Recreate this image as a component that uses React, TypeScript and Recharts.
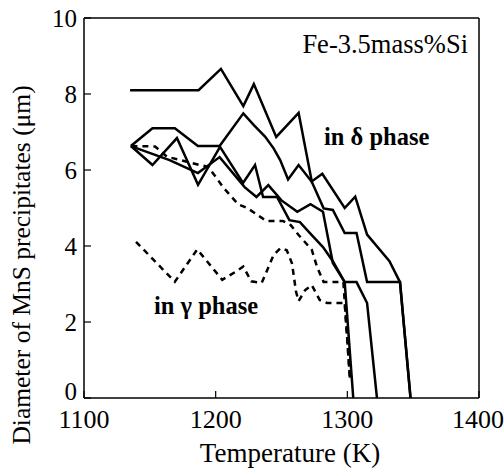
import React from "react";
import { LineChart, Line, XAxis, YAxis } from "recharts";

const tempTicks = [1100, 1200, 1300, 1400];
const sizeTicks = [0, 2, 4, 6, 8, 10];

// delta phase runs (solid)
const runA_T = [1135, 1187, 1204, 1221, 1229, 1246, 1263, 1273, 1281, 1298, 1306, 1315, 1332, 1340, 1348];
const runA_D = [8.1, 8.1, 8.66, 7.68, 8.26, 6.87, 7.5, 5.7, 5.9, 5.0, 5.3, 4.3, 3.6, 3.05, 0];

const runB_T = [1135.6, 1152, 1169, 1186.5, 1203, 1221, 1229, 1237.5, 1244, 1249, 1255, 1263, 1273, 1282, 1289, 1298, 1307, 1315, 1340, 1348];
const runB_D = [6.63, 7.1, 7.1, 6.63, 6.63, 7.49, 7.18, 6.88, 6.57, 6.26, 5.75, 6.13, 5.69, 4.99, 4.95, 4.34, 4.34, 3.05, 3.05, 0];

const runC_T = [1135.6, 1152, 1170.6, 1186.6, 1203.3, 1220.8, 1229.9, 1236, 1246.6, 1256, 1264, 1271.6, 1281.5, 1289, 1298, 1307, 1315, 1322.5];
const runC_D = [6.63, 6.13, 6.84, 5.61, 6.61, 5.66, 6.13, 5.29, 5.29, 4.68, 4.63, 4.34, 3.97, 3.6, 3.05, 3.05, 2.5, 0];

const runD_T = [1135.6, 1165, 1186.5, 1203, 1222, 1231, 1240, 1250, 1262, 1272, 1281.5, 1289, 1298, 1304.5];
const runD_D = [6.63, 6.26, 5.92, 6.34, 5.55, 5.29, 5.6, 5.2, 4.9, 5.1, 4.9, 3.55, 3.05, 0];

// dashed runs
const runE_T = [1136, 1154, 1163, 1188, 1194, 1200, 1206, 1217, 1224, 1230, 1235, 1238, 1251, 1257, 1263, 1273, 1277, 1282, 1297, 1302];
const runE_D = [6.63, 6.62, 6.35, 6.13, 6.09, 5.82, 5.53, 5.1, 5.0, 4.86, 4.74, 4.66, 4.66, 4.55, 4.29, 3.9, 3.45, 3.05, 3.05, 0.5];

// gamma phase
const gamma_T = [1139.5, 1169, 1186, 1205, 1215, 1221, 1227, 1235, 1244, 1249, 1254, 1258, 1261, 1263, 1268, 1273, 1279, 1284.6, 1298, 1302];
const gamma_D = [4.11, 3.06, 3.91, 3.11, 3.32, 3.46, 3.07, 3.03, 3.76, 3.94, 3.89, 3.54, 2.8, 2.55, 2.84, 2.97, 2.58, 2.5, 2.5, 0.5];

const toPoints = (t: number[], d: number[]) => t.map((x, i) => ({ t: x, d: d[i] }));

const series = [
  { id: "A", data: toPoints(runA_T, runA_D), dashed: false },
  { id: "B", data: toPoints(runB_T, runB_D), dashed: false },
  { id: "C", data: toPoints(runC_T, runC_D), dashed: false },
  { id: "D", data: toPoints(runD_T, runD_D), dashed: false },
  { id: "E", data: toPoints(runE_T, runE_D), dashed: true },
  { id: "G", data: toPoints(gamma_T, gamma_D), dashed: true },
];

const font = "'Liberation Serif', 'Times New Roman', serif";
const tickStyle = { fontSize: 26, fill: "#000", fontFamily: font };
const axisLine = { stroke: "#000", strokeWidth: 1.5 };
const tickLine = { stroke: "#000", strokeWidth: 1.2 };
const blank = () => "";

// the "0" sits a little above the axis corner in the original
const YTick = (props: any) => {
  const { x, y, payload } = props;
  const lift = payload.value === 0 ? -7 : 0;
  return (
    <text
      x={x}
      y={y + lift}
      dy="0.34em"
      textAnchor="end"
      fontSize={25}
      fontFamily={font}
      fill="#000"
    >
      {payload.value}
    </text>
  );
};

export default function App() {
  return (
    <div style={{ position: "absolute", left: 0, top: 0, width: 504, height: 470, background: "#fff" }}>
      <LineChart width={504} height={470} margin={{ top: 17, right: 24, bottom: 32, left: 40 }}>
        <XAxis
          xAxisId="bottom"
          type="number"
          dataKey="t"
          domain={[1100, 1400]}
          ticks={tempTicks}
          allowDataOverflow
          height={40}
          tickSize={-7}
          tickMargin={19}
          tick={tickStyle}
          axisLine={axisLine}
          tickLine={tickLine}
        />
        <XAxis
          xAxisId="top"
          orientation="top"
          type="number"
          dataKey="t"
          domain={[1100, 1400]}
          ticks={tempTicks}
          height={1}
          tickSize={-7}
          tickFormatter={blank}
          axisLine={axisLine}
          tickLine={tickLine}
        />
        <YAxis
          yAxisId="left"
          type="number"
          domain={[0, 10]}
          ticks={sizeTicks}
          allowDataOverflow
          width={44}
          tickSize={-7}
          tickMargin={14}
          tick={<YTick />}
          axisLine={axisLine}
          tickLine={tickLine}
        />
        <YAxis
          yAxisId="right"
          orientation="right"
          type="number"
          domain={[0, 10]}
          ticks={sizeTicks}
          width={1}
          tickSize={-7}
          tickFormatter={blank}
          axisLine={axisLine}
          tickLine={tickLine}
        />
        {series.map((s) => (
          <Line
            key={s.id}
            xAxisId="bottom"
            yAxisId="left"
            data={s.data}
            dataKey="d"
            type="linear"
            stroke="#000"
            strokeWidth={2.5}
            strokeDasharray={s.dashed ? "6 5" : undefined}
            dot={false}
            activeDot={false}
            isAnimationActive={false}
          />
        ))}
      </LineChart>
      <svg
        width={504}
        height={470}
        style={{ position: "absolute", left: 0, top: 0, pointerEvents: "none" }}
        fontFamily={font}
      >
        <text x={468} y={53} fontSize={26.5} textAnchor="end">Fe-3.5mass%Si</text>
        <text x={324} y={145} fontSize={24.5} fontWeight="bold">in δ phase</text>
        <text x={154} y={314} fontSize={24.5} fontWeight="bold">in γ phase</text>
        <text x={290} y={462} fontSize={27} textAnchor="middle">Temperature (K)</text>
        <text x={0} y={0} fontSize={25.5} textAnchor="middle" transform="translate(30 265) rotate(-90)">
          Diameter of MnS precipitates (μm)
        </text>
      </svg>
    </div>
  );
}
